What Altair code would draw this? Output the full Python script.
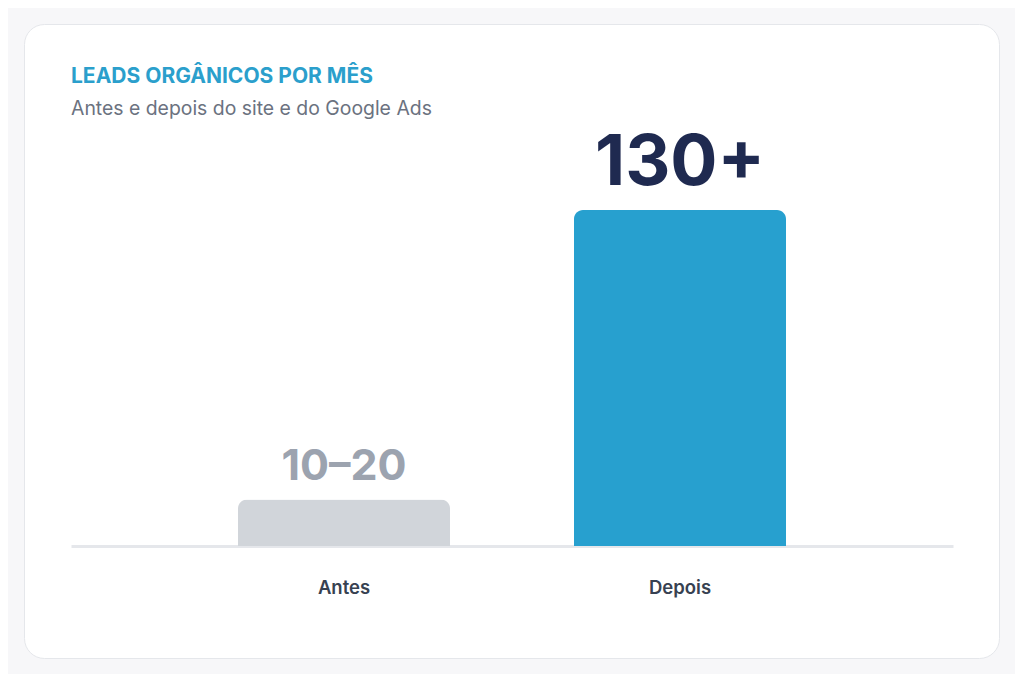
import altair as alt
import pandas as pd

# ---- data ----
categorias = ["Antes", "Depois"]
valores = [18, 130]
rotulos = ["10–20", "130+"]

titulo = "LEADS ORGÂNICOS POR MÊS"
subtitulo = "Antes e depois do site e do Google Ads"

df = pd.DataFrame({"periodo": categorias, "leads": valores, "rotulo": rotulos})

FONT = "Inter"
AZUL = "#27a0cf"
CINZA_BARRA = "#d1d5da"

x_enc = alt.X(
    "periodo:N",
    sort=categorias,
    title=None,
    scale=alt.Scale(range=[47, 929], paddingInner=0.369, paddingOuter=0.497),
    axis=alt.Axis(
        labelAngle=0,
        labelFont=FONT,
        labelFontSize=18.5,
        labelFontWeight=600,
        labelColor="#374151",
        labelPadding=32,
        ticks=False,
        tickSize=0,
        domainColor="#e5e7eb",
        domainWidth=3,
        offset=-112,
        grid=False,
    ),
)
y_enc = alt.Y(
    "leads:Q",
    title=None,
    axis=None,
    scale=alt.Scale(domain=[0, 130], range=[522, 186], nice=False, zero=True),
)

bars = alt.Chart(df).mark_bar(cornerRadiusTopLeft=9, cornerRadiusTopRight=9).encode(
    x=x_enc,
    y=y_enc,
    color=alt.Color(
        "periodo:N",
        scale=alt.Scale(domain=categorias, range=[CINZA_BARRA, AZUL]),
        legend=None,
    ),
)

labels = alt.Chart(df).mark_text(font=FONT, fontWeight=700, baseline="bottom", dy=-10).encode(
    x=alt.X("periodo:N", sort=categorias),
    y=alt.Y("leads:Q"),
    text="rotulo:N",
    size=alt.condition(alt.datum.periodo == "Depois", alt.value(70), alt.value(43)),
    color=alt.condition(alt.datum.periodo == "Depois", alt.value("#1f2a50"), alt.value("#9ca3af")),
)

chart = (
    alt.layer(bars, labels)
    .properties(
        width=975,
        height=634,
        autosize=alt.AutoSizeParams(type="none"),
        padding={"left": 16, "top": 16, "right": 16, "bottom": 16},
        background="#f7f7f9",
        title=alt.TitleParams(
            titulo,
            subtitle=subtitulo,
            anchor="start",
            frame="group",
            dx=47,
            dy=98,
            offset=4,
            font=FONT,
            fontSize=21,
            fontWeight=700,
            color="#2b9fcc",
            subtitleFont=FONT,
            subtitleFontSize=19.4,
            subtitleFontWeight=400,
            subtitleColor="#6b7280",
            subtitlePadding=13,
        ),
    )
    .configure_view(fill="white", stroke="#e5e7eb", strokeWidth=1, cornerRadius=20)
)

chart.save("out.html", embed_options={"renderer": "svg", "actions": False})
